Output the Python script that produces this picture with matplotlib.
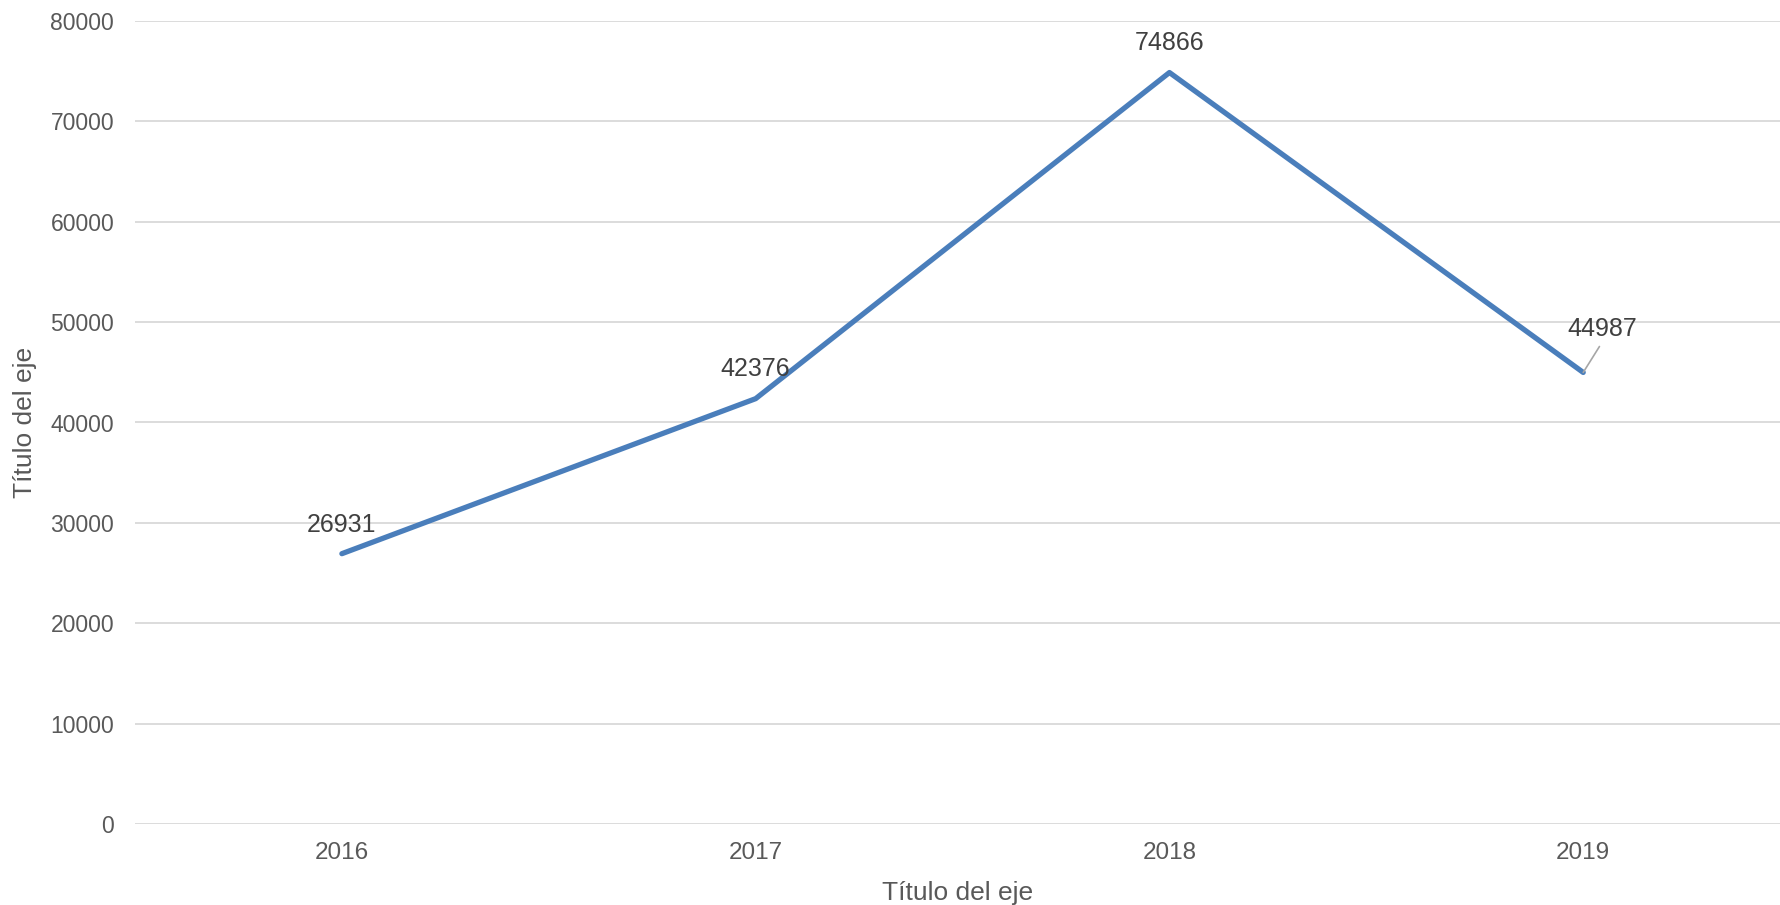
import matplotlib.pyplot as plt

years = ["2016", "2017", "2018", "2019"]
values = [26931, 42376, 74866, 44987]
y_ticks = [0, 10000, 20000, 30000, 40000, 50000, 60000, 70000, 80000]

plt.rcParams["font.family"] = ["Liberation Sans", "DejaVu Sans"]

fig = plt.figure(figsize=(17.81, 9.05), dpi=100)
ax = fig.add_axes([135 / 1781, 1 - 824 / 905, 1 - 135 / 1781, (824 - 21) / 905])

x = list(range(len(years)))
ax.plot(x, values, color="#4a7ebb", linewidth=3.8, solid_capstyle="round")

ax.set_xlim(-0.5, 3.478)
ax.set_ylim(0, 80000)
ax.set_xticks(x)
ax.set_xticklabels(years)
ax.set_yticks(y_ticks)
ax.set_yticklabels([str(t) for t in y_ticks])
ax.tick_params(axis="both", length=0, labelcolor="#595959")
ax.tick_params(axis="y", pad=15, labelsize=16.5)
ax.tick_params(axis="x", pad=13, labelsize=17.5)
ax.grid(axis="y", color="#d9d9d9", linewidth=1.3)
ax.set_axisbelow(True)
for s in ax.spines.values():
    s.set_visible(False)

ax.set_xlabel("Título del eje", fontsize=19, color="#595959", labelpad=12)
ax.set_ylabel("Título del eje", fontsize=19, color="#595959", labelpad=10)

# data labels
for i, v in enumerate(values):
    if i == 3:
        ax.annotate(str(v), (i, v), xytext=(14, 31), textcoords="offset points",
                    ha="center", va="center", fontsize=18, color="#404040",
                    arrowprops=dict(arrowstyle="-", color="#a6a6a6", lw=1.2,
                                    relpos=(0.5, 0), shrinkA=2, shrinkB=0))
    else:
        ax.annotate(str(v), (i, v), xytext=(0, 21), textcoords="offset points",
                    ha="center", va="center", fontsize=18, color="#404040")

fig.savefig("out.png", dpi=100)
